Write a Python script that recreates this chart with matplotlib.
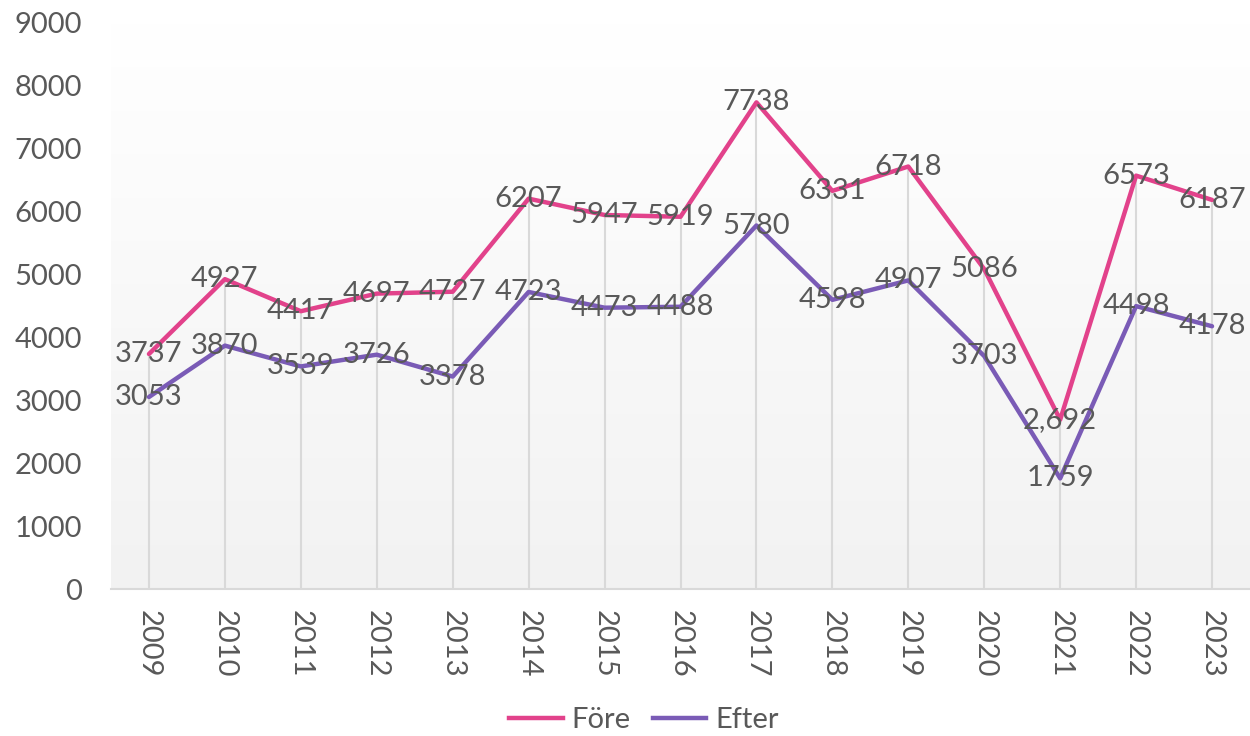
import matplotlib
matplotlib.use("Agg")
import matplotlib.pyplot as plt
import numpy as np
from matplotlib.lines import Line2D
from matplotlib.colors import LinearSegmentedColormap

years = ["2009", "2010", "2011", "2012", "2013", "2014", "2015", "2016",
         "2017", "2018", "2019", "2020", "2021", "2022", "2023"]
fore = [3737, 4927, 4417, 4697, 4727, 6207, 5947, 5919, 7738, 6331, 6718, 5086, 2692, 6573, 6187]
efter = [3053, 3870, 3539, 3726, 3378, 4723, 4473, 4488, 5780, 4598, 4907, 3703, 1759, 4498, 4178]
fore_labels = ["3737", "4927", "4417", "4697", "4727", "6207", "5947", "5919", "7738",
               "6331", "6718", "5086", "2,692", "6573", "6187"]
efter_labels = [str(v) for v in efter]

plt.rcParams['font.family'] = ['Lato', 'DejaVu Sans']
TXT = '#595959'
PINK = '#E2428B'
PURPLE = '#7A5BB6'
FS = 21

fig = plt.figure(figsize=(12.5, 7.36), dpi=100)
ax = fig.add_axes([111/1250, 1-589/736, (1250-111)/1250, (589-23)/736])

x = np.arange(len(years))
ax.set_xlim(-0.5, len(years)-0.5)
ax.set_ylim(0, 9000)

# gradient background
grad = np.linspace(0, 1, 256).reshape(-1, 1)
cmap = LinearSegmentedColormap.from_list('g', ['#f2f2f2', '#ffffff'])
ax.imshow(grad, extent=[-0.5, len(years)-0.5, 0, 9000], aspect='auto',
          origin='lower', cmap=cmap, zorder=0)

# drop lines from the highest point to the axis
tops = np.maximum(fore, efter)
ax.vlines(x, 0, tops, color='#d9d9d9', lw=1.5, zorder=1)

ax.plot(x, fore, color=PINK, lw=3.2, zorder=3, solid_capstyle='round')
ax.plot(x, efter, color=PURPLE, lw=3.2, zorder=3, solid_capstyle='round')

for xi, v, s in zip(x, fore, fore_labels):
    ax.text(xi, v, s, ha='center', va='center', fontsize=FS, color=TXT, zorder=4)
for xi, v, s in zip(x, efter, efter_labels):
    ax.text(xi, v, s, ha='center', va='center', fontsize=FS, color=TXT, zorder=4)

ax.set_xticks(x)
ax.set_xticklabels(years, rotation=-90, fontsize=FS, color=TXT)
ax.set_yticks(np.arange(0, 9001, 1000))
ax.set_yticklabels([str(v) for v in range(0, 9001, 1000)], fontsize=FS, color=TXT)
ax.tick_params(axis='both', length=0)
ax.tick_params(axis='x', pad=15)
ax.tick_params(axis='y', pad=21)

for s in ['top', 'right', 'left']:
    ax.spines[s].set_visible(False)
ax.spines['bottom'].set_color('#d9d9d9')
ax.spines['bottom'].set_linewidth(1.5)
ax.spines['bottom'].set_zorder(2)

handles = [Line2D([0], [0], color=PINK, lw=3.2), Line2D([0], [0], color=PURPLE, lw=3.2)]
leg = fig.legend(handles, ['Före', 'Efter'], loc='center', bbox_to_anchor=(0.515, 1-720/736),
                 ncol=2, frameon=False, fontsize=FS, handlelength=1.85, handletextpad=0.3,
                 columnspacing=0.75)
for t in leg.get_texts():
    t.set_color(TXT)

fig.savefig('out.png', dpi=100)
